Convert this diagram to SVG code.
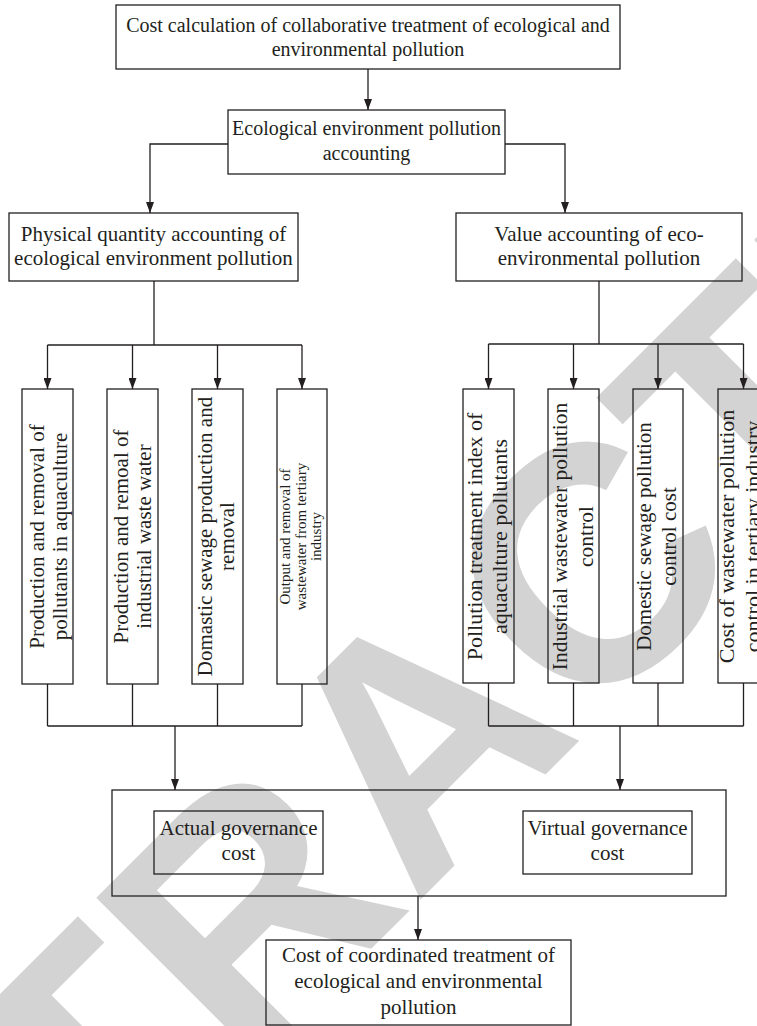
<svg xmlns="http://www.w3.org/2000/svg" width="757" height="1026" viewBox="0 0 757 1026">
<style>
.bg{fill:#ffffff}
.box{fill:none;stroke:#231f20;stroke-width:1.3}
.c{fill:none;stroke:#231f20;stroke-width:1.3}
.t{font-family:"Liberation Serif","Times New Roman",serif;fill:#231f20;text-anchor:middle}
.wm{font-family:"Liberation Sans",Arial,sans-serif;font-weight:bold;fill:#d3d3d3;text-anchor:middle}
</style>
<defs>
<marker id="ah" viewBox="0 0 11 8" refX="11" refY="4" markerWidth="11" markerHeight="8" markerUnits="userSpaceOnUse" orient="auto" preserveAspectRatio="none">
<path d="M0,0 L11,4 L0,8 z" fill="#231f20"/>
</marker>
</defs>
<rect class="bg" x="0" y="0" width="757" height="1026"/>
<text class="wm" font-size="335" transform="translate(500,820) rotate(-45)">RETRACTED</text>

<g id="connectors">
<line class="c" x1="368" y1="69" x2="368" y2="110" marker-end="url(#ah)"/>
<polyline class="c" points="228,144 150,144 150,213" marker-end="url(#ah)"/>
<polyline class="c" points="505,144 565,144 565,213" marker-end="url(#ah)"/>
<line class="c" x1="154" y1="281" x2="154" y2="345"/>
<line class="c" x1="47.5" y1="345" x2="302" y2="345"/>
<line class="c" x1="47.5" y1="345" x2="47.5" y2="389" marker-end="url(#ah)"/>
<line class="c" x1="132.5" y1="345" x2="132.5" y2="389" marker-end="url(#ah)"/>
<line class="c" x1="217.5" y1="345" x2="217.5" y2="389" marker-end="url(#ah)"/>
<line class="c" x1="302" y1="345" x2="302" y2="389" marker-end="url(#ah)"/>
<line class="c" x1="599" y1="281" x2="599" y2="344"/>
<line class="c" x1="488.5" y1="344" x2="743.5" y2="344"/>
<line class="c" x1="488.5" y1="344" x2="488.5" y2="389" marker-end="url(#ah)"/>
<line class="c" x1="573.5" y1="344" x2="573.5" y2="389" marker-end="url(#ah)"/>
<line class="c" x1="658" y1="344" x2="658" y2="389" marker-end="url(#ah)"/>
<line class="c" x1="743.5" y1="344" x2="743.5" y2="389" marker-end="url(#ah)"/>
<path class="c" d="M47.5,684 V726 M132.5,684 V726 M217.5,684 V726 M302,684 V726 M47.5,726 H302"/>
<line class="c" x1="175" y1="726" x2="175" y2="790" marker-end="url(#ah)"/>
<path class="c" d="M488.5,683 V726 M573.5,683 V726 M658,683 V726 M743.5,683 V726 M488.5,726 H743.5"/>
<line class="c" x1="620" y1="726" x2="620" y2="790" marker-end="url(#ah)"/>
<line class="c" x1="418" y1="896" x2="418" y2="940" marker-end="url(#ah)"/>
</g>

<g id="n1">
<rect class="box" x="116" y="5" width="504" height="64"/>
<text class="t" font-size="20" x="368" y="32">Cost calculation of collaborative treatment of ecological and</text>
<text class="t" font-size="20" x="368" y="55.5">environmental pollution</text>
</g>
<g id="n2">
<rect class="box" x="228" y="110" width="277" height="64"/>
<text class="t" font-size="20" x="366.5" y="135">Ecological environment pollution</text>
<text class="t" font-size="20" x="366.5" y="159.5">accounting</text>
</g>
<g id="n3">
<rect class="box" x="9" y="213" width="289" height="68"/>
<text class="t" font-size="21" x="153.5" y="241">Physical quantity accounting of</text>
<text class="t" font-size="21" x="153.5" y="265">ecological environment pollution</text>
</g>
<g id="n4">
<rect class="box" x="456" y="213" width="286" height="68"/>
<text class="t" font-size="21" x="599" y="241">Value accounting of eco-</text>
<text class="t" font-size="21" x="599" y="265">environmental pollution</text>
</g>

<g id="l1">
<rect class="box" x="22" y="389" width="51" height="295"/>
<g transform="translate(47.5,536.5) rotate(-90)">
<text class="t" font-size="21" x="0" y="-3.5">Production and removal of</text>
<text class="t" font-size="21" x="0" y="19.5">pollutants in aquaculture</text>
</g>
</g>
<g id="l2">
<rect class="box" x="107" y="389" width="51" height="295"/>
<g transform="translate(132.5,536.5) rotate(-90)">
<text class="t" font-size="21" x="0" y="-4.5">Production and remoal of</text>
<text class="t" font-size="21" x="0" y="18.5">industrial waste water</text>
</g>
</g>
<g id="l3">
<rect class="box" x="192" y="389" width="51" height="295"/>
<g transform="translate(217.5,536.5) rotate(-90)">
<text class="t" font-size="21" x="0" y="-5.5">Domastic sewage production and</text>
<text class="t" font-size="21" x="0" y="16">removal</text>
</g>
</g>
<g id="l4">
<rect class="box" x="277" y="389" width="50" height="295"/>
<g transform="translate(302,536.5) rotate(-90)">
<text class="t" font-size="15" x="0" y="-12">Output and removal of</text>
<text class="t" font-size="15" x="0" y="4">wastewater from tertiary</text>
<text class="t" font-size="15" x="0" y="18.5">industry</text>
</g>
</g>

<g id="r1">
<rect class="box" x="463" y="389" width="51" height="294"/>
<g transform="translate(488.5,536.5) rotate(-90)">
<text class="t" font-size="22" x="0" y="-6.5">Pollution treatment index of</text>
<text class="t" font-size="22" x="0" y="18.5">aquaculture pollutants</text>
</g>
</g>
<g id="r2">
<rect class="box" x="548" y="389" width="51" height="294"/>
<g transform="translate(573.5,536.5) rotate(-90)">
<text class="t" font-size="21.5" x="0" y="-7">Industrial wastewater pollution</text>
<text class="t" font-size="21.5" x="0" y="19.5">control</text>
</g>
</g>
<g id="r3">
<rect class="box" x="633" y="389" width="50" height="294"/>
<g transform="translate(658,536.5) rotate(-90)">
<text class="t" font-size="21" x="0" y="-7">Domestic sewage pollution</text>
<text class="t" font-size="21" x="0" y="18">control cost</text>
</g>
</g>
<g id="r4">
<rect class="box" x="718" y="389" width="51" height="294"/>
<g transform="translate(743.5,536.5) rotate(-90)">
<text class="t" font-size="22" x="0" y="-9.5">Cost of wastewater pollution</text>
<text class="t" font-size="22" x="0" y="16.5">control in tertiary industry</text>
</g>
</g>

<g id="n5">
<rect class="box" x="112" y="790" width="614" height="106"/>
</g>
<g id="n6">
<rect class="box" x="154" y="811" width="169" height="63"/>
<text class="t" font-size="21" x="238.5" y="835">Actual governance</text>
<text class="t" font-size="21" x="238.5" y="860">cost</text>
</g>
<g id="n7">
<rect class="box" x="523" y="811" width="169" height="63"/>
<text class="t" font-size="21" x="607.5" y="835">Virtual governance</text>
<text class="t" font-size="21" x="607.5" y="860">cost</text>
</g>
<g id="n8">
<rect class="box" x="266" y="940" width="305" height="85"/>
<text class="t" font-size="21" x="418.5" y="962">Cost of coordinated treatment of</text>
<text class="t" font-size="21" x="418.5" y="988">ecological and environmental</text>
<text class="t" font-size="21" x="418.5" y="1014">pollution</text>
</g>
</svg>
